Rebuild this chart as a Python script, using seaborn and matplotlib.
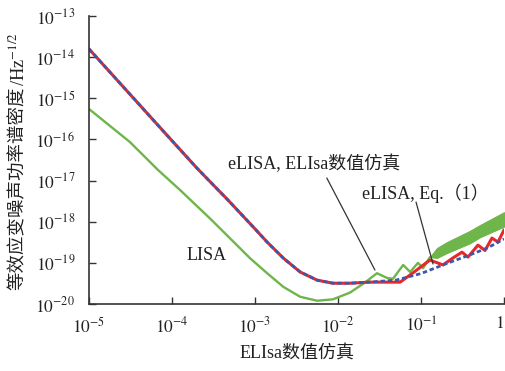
import matplotlib
matplotlib.use('Agg')
import matplotlib.pyplot as plt
import seaborn as sns
from matplotlib.ticker import NullLocator

# ---------------- data ----------------
# LISA (green)
freq_lisa = [1e-5, 3.1e-5, 6.8e-5, 1.25e-4, 3.0e-4, 8.7e-4, 1.4e-3, 2.2e-3, 3.5e-3,
             5.6e-3, 8.7e-3, 1.4e-2, 2.1e-2, 2.95e-2, 3.9e-2, 4.6e-2, 6.1e-2, 7.4e-2,
             9.2e-2, 0.106, 0.128]
psd_lisa = [5.5e-16, 8.7e-17, 1.8e-17, 5.9e-18, 1.1e-18, 1.3e-19, 5.6e-20, 2.6e-20, 1.5e-20,
            1.2e-20, 1.3e-20, 1.9e-20, 3.3e-20, 5.6e-20, 4.3e-20, 4.1e-20, 8.9e-20, 6.0e-20,
            1.0e-19, 7.4e-20, 1.38e-19]
# LISA high-frequency oscillation band (envelope)
band_freq = [0.128, 0.156, 0.206, 0.389, 0.514, 1.0]
band_upper = [1.38e-19, 2.3e-19, 3.2e-19, 6.0e-19, 8.3e-19, 1.7e-18]
band_lower = [1.38e-19, 1.32e-19, 1.74e-19, 3.0e-19, 4.2e-19, 7.6e-19]

# eLISA numerical simulation (red)
freq_sim = [1e-5, 1e-4, 2e-4, 4.7e-4, 1e-3, 1.4e-3, 2.2e-3, 3.5e-3, 5.6e-3, 8.7e-3,
            1.4e-2, 2.4e-2, 3.2e-2, 5.6e-2, 7.9e-2, 0.128, 0.184, 0.243, 0.312, 0.368,
            0.486, 0.59, 0.716, 0.847, 1.0]
psd_sim = [1.58e-14, 9.3e-17, 2.0e-17, 3.4e-18, 6.7e-19, 3.2e-19, 1.3e-19, 6.0e-20, 3.8e-20, 3.2e-20,
           3.2e-20, 3.4e-20, 3.4e-20, 3.4e-20, 5.6e-20, 1.17e-19, 8.9e-20, 1.32e-19, 1.82e-19, 1.38e-19,
           2.7e-19, 2.0e-19, 4.0e-19, 3.2e-19, 6.3e-19]

# eLISA, Eq.(1) (blue dashed)
freq_eq = [1e-5, 1e-4, 2e-4, 4.7e-4, 1e-3, 1.4e-3, 2.2e-3, 3.5e-3, 5.6e-3, 8.7e-3,
           1.4e-2, 2.4e-2, 5e-2, 0.1, 0.2, 0.4, 0.63, 1.0]
psd_eq = [1.58e-14, 9.3e-17, 2.0e-17, 3.4e-18, 6.7e-19, 3.2e-19, 1.3e-19, 6.0e-20, 3.8e-20, 3.2e-20,
          3.2e-20, 3.4e-20, 3.8e-20, 5.5e-20, 9.5e-20, 1.6e-19, 2.3e-19, 3.8e-19]

xtick_vals = [1e-5, 1e-4, 1e-3, 1e-2, 1e-1, 1]
xtick_labels = ['$10^{-5}$', '$10^{-4}$', '$10^{-3}$', '$10^{-2}$', '$10^{-1}$', '$1$']
ytick_vals = [1e-20, 1e-19, 1e-18, 1e-17, 1e-16, 1e-15, 1e-14, 1e-13]
ytick_labels = ['$10^{-20}$', '$10^{-19}$', '$10^{-18}$', '$10^{-17}$', '$10^{-16}$',
                '$10^{-15}$', '$10^{-14}$', '$10^{-13}$']

x_label = 'ELIsa数值仿真'
y_label_cjk = '等效应变噪声功率谱密度'
y_label_unit = '/Hz$^{-1/2}$'
label_lisa = 'LISA'
label_sim = 'eLISA, ELIsa数值仿真'
label_eq = 'eLISA, Eq.（1）'

# ---------------- style ----------------
sns.set_theme(style='ticks')
plt.rcParams['font.family'] = ['Liberation Serif', 'Noto Sans CJK SC']
plt.rcParams['mathtext.fontset'] = 'stix'

GREEN = '#6EB54A'
RED = '#E8262C'
BLUE = '#3B59A8'
DARK = '#333333'

W, H = 506, 371
fig = plt.figure(figsize=(W / 100, H / 100), dpi=100)
ax = fig.add_axes([89 / W, 1 - 304 / H, 415 / W, 288 / H])
ax.set_xscale('log')
ax.set_yscale('log')

sns.lineplot(x=freq_lisa, y=psd_lisa, ax=ax, color=GREEN, lw=1.7, estimator=None, sort=False)
ax.fill_between(band_freq, band_lower, band_upper, color=GREEN, lw=0.8, edgecolor=GREEN)
sns.lineplot(x=freq_sim, y=psd_sim, ax=ax, color=RED, lw=2.2, estimator=None, sort=False)
sns.lineplot(x=freq_eq, y=psd_eq, ax=ax, color=BLUE, lw=2.0, estimator=None, sort=False,
             linestyle=(0, (1.6, 1.0)))

ax.set_xlim(1e-5, 1)
ax.set_ylim(1e-20, 1e-13)
ax.set_xticks(xtick_vals)
ax.set_xticklabels(xtick_labels, fontsize=12.5)
ax.get_xticklabels()[-1].set_horizontalalignment('right')
ax.set_yticks(ytick_vals)
ax.set_yticklabels(ytick_labels, fontsize=12.5)
ax.xaxis.set_minor_locator(NullLocator())
ax.yaxis.set_minor_locator(NullLocator())
ax.tick_params(axis='both', direction='in', length=5, width=1.0, color=DARK, labelcolor='#222222')
ax.tick_params(axis='x', pad=9)
ax.tick_params(axis='y', pad=10)
for s in ['top', 'right']:
    ax.spines[s].set_visible(False)
for s in ['left', 'bottom']:
    ax.spines[s].set_color(DARK)
    ax.spines[s].set_linewidth(1.2)
ax.set_xlabel('')
ax.set_ylabel('')

# annotations (axes-fraction positions)
ax.text(0.236, 0.170, label_lisa, transform=ax.transAxes, ha='left', va='center',
        fontsize=13, color='#222222')
ax.text(0.335, 0.486, label_sim, transform=ax.transAxes, ha='left', va='center',
        fontsize=13, color='#222222')
ax.text(0.658, 0.385, label_eq, transform=ax.transAxes, ha='left', va='center',
        fontsize=13, color='#222222')
ax.plot([0.573, 0.689], [0.4375, 0.118], transform=ax.transAxes, color=DARK, lw=0.9)
ax.plot([0.788, 0.829], [0.354, 0.139], transform=ax.transAxes, color=DARK, lw=0.9)

# x label
fig.text(297 / W, 1 - 354 / H, x_label, ha='center', va='center', fontsize=13, color='#222222')

# y label: CJK part plus unit with superscript
t1 = fig.text(18 / W, 1 - 290 / H, y_label_cjk, rotation=90, ha='center', va='bottom',
              fontsize=13.3, color='#222222')
fig.canvas.draw()
bb = t1.get_window_extent()
fig.text(18 / W, (bb.y1 + 1) / H, y_label_unit, rotation=90, ha='center', va='bottom',
         fontsize=13.3, color='#222222')

fig.savefig('out.png', dpi=100)
